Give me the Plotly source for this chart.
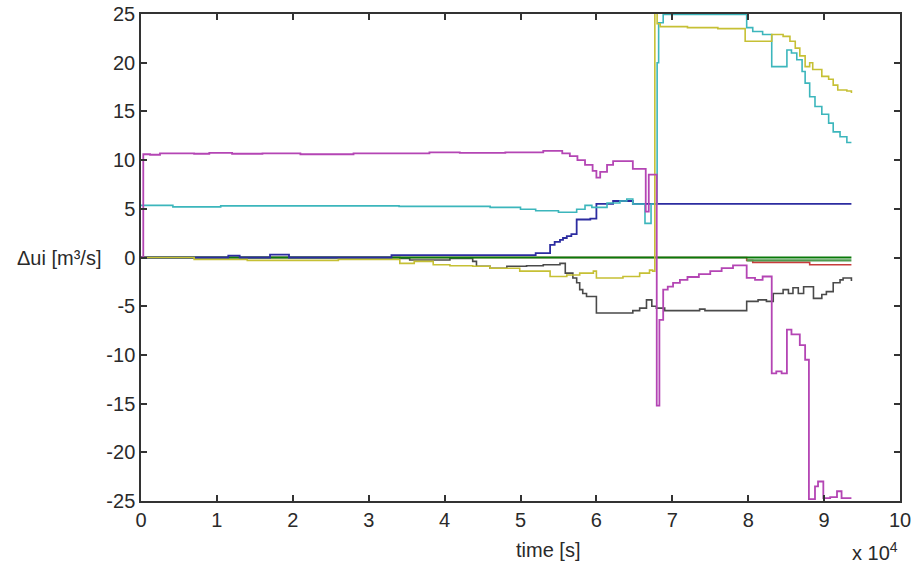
import plotly.graph_objects as go

# time in seconds, values in m^3/s (step series)
magenta_t = [0, 300, 1200, 2500, 7000, 9000, 12000, 16000, 21000, 28000, 38000, 42000, 48000,
             53000, 55500, 56500, 57500, 58500, 59500, 60000, 60500, 61400, 62200, 64800, 66500,
             66900, 67950, 68300, 68800, 69400, 70100, 71000, 72000, 73500, 75000, 76500, 78000,
             79800, 80900, 81900, 83100, 83700, 84400, 85100, 85700, 86800, 87500, 88000, 88800,
             89200, 89900, 90800, 91700, 92300, 93600]
magenta_v = [0, 10.6, 10.55, 10.7, 10.65, 10.75, 10.65, 10.7, 10.6, 10.7, 10.8, 10.75, 10.8,
             10.95, 10.7, 10.4, 10.0, 9.5, 8.9, 8.2, 8.8, 9.5, 9.9, 9.1, 4.7,
             8.5, -15.2, -6.4, -3.3, -3.0, -2.6, -2.3, -2.0, -1.7, -1.4, -1.1, -0.8,
             -2.1, -2.3, -1.95, -11.9, -11.7, -11.9, -7.4, -7.9, -9.0, -10.5, -24.8, -23.5,
             -23.0, -24.7, -24.6, -24.0, -24.7, -24.7]

cyan_t = [0, 4200, 10500, 25000, 34000, 46000, 50000, 52000, 55000, 57400, 58500, 59400, 61400,
          63100, 64000, 64800, 66400, 67200, 68000, 68200, 68800, 79800, 80600, 81900, 83100,
          85100, 85700, 86400, 87100, 87500, 88100, 88800, 89700, 90600, 91200, 92100, 93000, 93600]
cyan_v = [5.35, 5.2, 5.3, 5.3, 5.25, 5.15, 4.95, 4.8, 4.65, 4.95, 5.35, 5.15, 5.6,
          5.8, 6.0, 5.5, 3.5, 5.5, 20.0, 24.1, 24.95, 23.6, 23.2, 22.9, 19.6,
          21.3, 21.0, 20.3, 19.1, 17.9, 16.5, 15.5, 14.7, 13.8, 12.9, 12.4, 11.8, 11.8]

yellow_t = [0, 7000, 14000, 26000, 34100, 36000, 38500, 40700, 43700, 46000, 49900, 53900, 56100,
            57800, 59600, 60000, 63500, 65700, 67000, 67400, 67700, 68000, 68400, 72000, 76000,
            79600, 83100, 84600, 85500, 86200, 86800, 87500, 88100, 88500, 89700, 90600, 91200,
            91800, 93000, 93600]
yellow_v = [0, -0.2, -0.3, -0.2, -0.6, -0.4, -0.75, -0.85, -0.9, -1.1, -1.4, -1.95, -1.8,
            -1.6, -1.4, -2.1, -1.95, -1.6, -1.3, -1.4, 26, 24.0, 23.7, 23.6, 23.5,
            22.2, 22.9, 22.7, 22.2, 21.5, 20.7, 19.6, 20.0, 19.3, 18.6, 18.3, 17.7,
            17.2, 17.1, 16.9]

blue_t = [0, 7000, 11500, 13000, 17000, 19500, 33000, 52000, 53900, 54500, 55200, 55600, 56100,
          56700, 57400, 59200, 60000, 62200, 64800, 93600]
blue_v = [0, 0, 0.2, 0, 0.3, 0, 0.25, 0.45, 1.3, 1.6, 1.8, 2.0, 2.2,
          2.4, 3.9, 4.0, 5.5, 5.8, 5.5, 5.5]

gray_t = [0, 34100, 35400, 40700, 43700, 44200, 46000, 48200, 50800, 53000, 55200, 55900, 56900,
          57400, 57800, 58200, 58700, 60000, 64800, 65700, 66600, 67300, 67900, 69000, 73600,
          74300, 79800, 81300, 82400, 83300, 84600, 85300, 85900, 86600, 87300, 88600, 89700,
          90300, 91200, 92100, 92500, 93600]
gray_v = [0, -0.1, -0.25, -0.1, -0.4, -0.9, -1.1, -0.9, -0.85, -0.75, -0.6, -1.6, -2.1,
          -2.6, -3.3, -3.7, -4.0, -5.7, -5.45, -5.2, -4.35, -5.0, -5.2, -5.45, -5.3,
          -5.45, -4.5, -4.35, -4.5, -3.7, -3.3, -3.7, -3.1, -3.7, -3.0, -4.2, -3.8,
          -3.5, -2.6, -2.3, -2.1, -2.4]

red_t = [0, 79800, 80600, 88100, 93600]
red_v = [0, -0.3, -0.5, -0.75, -0.75]

green_t = [0, 93600]
green_v = [0, 0]
green2_t = [79800, 93600]
green2_v = [-0.3, -0.3]

x_tick_vals = [0, 10000, 20000, 30000, 40000, 50000, 60000, 70000, 80000, 90000, 100000]
x_tick_text = ["0", "1", "2", "3", "4", "5", "6", "7", "8", "9", "10"]
y_tick_vals = [-25, -20, -15, -10, -5, 0, 5, 10, 15, 20, 25]
y_tick_text = ["-25", "-20", "-15", "-10", "-5", "0", "5", "10", "15", "20", "25"]

series = [
    (red_t, red_v, "#c83c3c", 1.6),
    (gray_t, gray_v, "#4a4a4a", 1.6),
    (green2_t, green2_v, "#4f9a4f", 2.2),
    (green_t, green_v, "#0a7a0a", 2.0),
    (blue_t, blue_v, "#2c2ca0", 1.8),
    (cyan_t, cyan_v, "#3cb6bc", 1.6),
    (yellow_t, yellow_v, "#c6c034", 1.6),
    (magenta_t, magenta_v, "#b445b4", 1.8),
]

fig = go.Figure()
for t, v, c, w in series:
    fig.add_trace(go.Scatter(x=t, y=v, mode="lines", line=dict(color=c, width=w, shape="hv"),
                             showlegend=False, hoverinfo="skip"))

font_main = dict(family="Liberation Sans, Arial, sans-serif", size=20, color="#2a2a2a")

fig.update_layout(
    width=914, height=568,
    margin=dict(l=141, r=14, t=14, b=67, autoexpand=False),
    paper_bgcolor="white", plot_bgcolor="white",
    font=font_main,
    xaxis=dict(range=[0, 100000], tickvals=x_tick_vals, ticktext=x_tick_text,
               ticks="inside", ticklen=6, tickwidth=1.5, tickcolor="#333",
               showline=True, linecolor="#333", linewidth=1.5, mirror="ticks",
               showgrid=False, zeroline=False, tickfont=font_main, automargin=False),
    yaxis=dict(range=[-25, 25], tickvals=y_tick_vals, ticktext=y_tick_text,
               ticks="inside", ticklen=6, tickwidth=1.5, tickcolor="#333",
               showline=True, linecolor="#333", linewidth=1.5, mirror="ticks",
               showgrid=False, zeroline=False, tickfont=font_main, automargin=False),
    annotations=[
        dict(text="Δui [m³/s]", xref="paper", yref="paper", x=-0.108, y=0.499,
             showarrow=False, font=font_main, xanchor="center", yanchor="middle"),
        dict(text="time [s]", xref="paper", yref="paper", x=0.536, y=-0.101,
             showarrow=False, font=font_main, xanchor="center", yanchor="middle"),
        dict(text="x 10<sup>4</sup>", xref="paper", yref="paper", x=1.0, y=-0.103,
             showarrow=False, font=font_main, xanchor="right", yanchor="middle"),
    ],
)

fig.write_html("out.html")
